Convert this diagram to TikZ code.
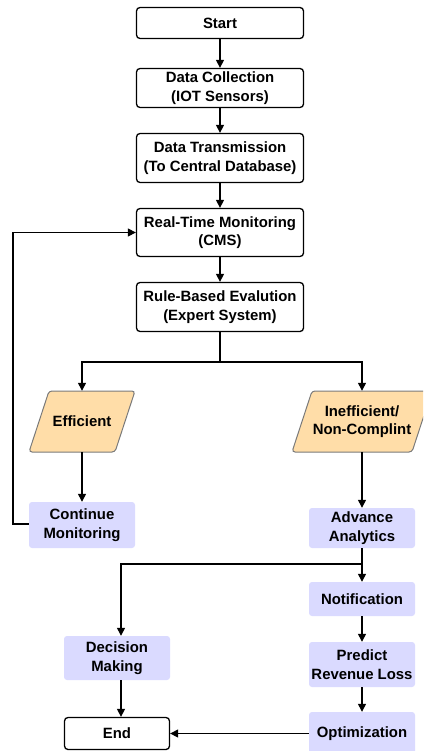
\documentclass[tikz,border=0pt]{standalone}
\usepackage{fontspec}
\setmainfont{Liberation Sans}
\usetikzlibrary{arrows.meta,calc}
\definecolor{peach}{HTML}{FFDDA8}
\definecolor{lav}{HTML}{DADAFF}
\definecolor{pgray}{HTML}{7A7A7A}
\begin{document}
\begin{tikzpicture}[x=1pt,y=-1pt,
 every node/.style={font=\bfseries\fontsize{14.9}{18.7}\selectfont, align=center, inner sep=0pt},
 blk/.style={draw=black, line width=1.3pt, rounded corners=3.5pt, minimum width=167pt, fill=white},
 lv/.style={fill=lav, rounded corners=3pt, minimum width=106pt},
 para/.style={draw=pgray, fill=peach, line width=1pt, rounded corners=3pt},
 arr/.style={line width=1.3pt, -{Triangle[length=8pt,width=8pt]}},
 ln/.style={line width=1.3pt}]
\useasboundingbox (0,0) rectangle (423,751);
\clip (0,0) rectangle (423,751);
% black boxes
\node[blk, minimum height=31pt] (start) at (220,23) {Start};
\node[blk, minimum height=39pt] (dc) at (220,88) {Data Collection\\(IOT Sensors)};
\node[blk, minimum height=49pt] (dt) at (220,158) {Data Transmission\\(To Central Database)};
\node[blk, minimum height=48pt] (rtm) at (220,232.5) {Real-Time Monitoring\\(CMS)};
\node[blk, minimum height=49pt] (rbe) at (220,307) {Rule-Based Evalution\\(Expert System)};
% parallelograms
\draw[para] (29,452) -- (49,391) -- (135,391) -- (115,452) -- cycle;
\node[minimum width=60pt, minimum height=61pt] (eff) at (82,421.5) {Efficient};
\draw[para] (292,452) -- (312,391) -- (432,391) -- (412,452) -- cycle;
\node[minimum width=60pt, minimum height=61pt] (ineff) at (362,421.5) {Inefficient/\\Non-Complint};
% lavender boxes
\node[lv, minimum height=46pt] (cm) at (82,525) {Continue\\Monitoring};
\node[lv, minimum height=40pt] (aa) at (362,528) {Advance\\Analytics};
\node[lv, minimum height=34pt] (notif) at (362,599) {Notification};
\node[lv, minimum height=44pt] (dm) at (117,658) {Decision\\Making};
\node[lv, minimum height=45pt] (pred) at (362,664.5) {Predict\\Revenue Loss};
\node[lv, minimum height=43pt] (opt) at (362,733.5) {Optimization};
\node[blk, minimum width=105pt, minimum height=32pt] (end) at (117,733.5) {End};
% connectors
\draw[arr] (start) -- (dc);
\draw[arr] (dc) -- (dt);
\draw[arr] (dt) -- (rtm);
\draw[arr] (rtm) -- (rbe);
\coordinate (split) at (220,362);
\draw[ln] (rbe.south) -- (split);
\draw[arr] (split) -| (eff.north);
\draw[arr] (split) -| (ineff.north);
\draw[arr] (eff) -- (cm);
\draw[arr] (ineff) -- (aa);
\coordinate (loopx) at (13,524);
\draw[arr] (cm.west |- loopx) -- (loopx) |- (rtm.west);
\coordinate (split2) at (362,564);
\coordinate (bx) at (121,564);
\draw[arr] (aa.south) -- (notif.north);
\draw[arr] (split2) -- (bx) -- (bx |- dm.north);
\draw[arr] (dm.south -| bx) -- (end.north -| bx);
\draw[arr] (notif) -- (pred);
\draw[arr] (pred) -- (opt);
\draw[arr] (opt.west) -- (opt.west -| end.east);
\end{tikzpicture}
\end{document}
